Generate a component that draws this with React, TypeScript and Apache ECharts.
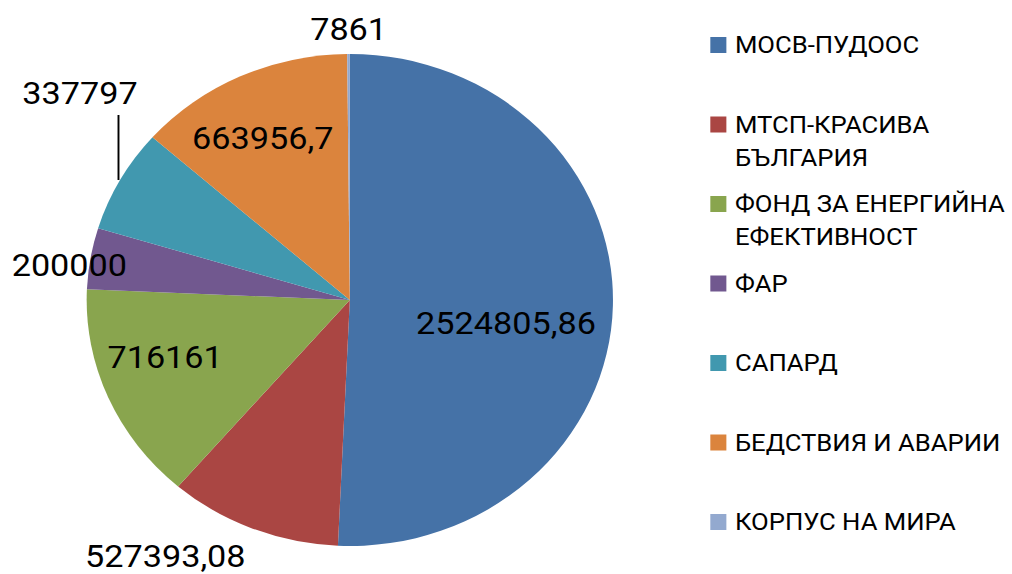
import React, { useEffect, useRef } from "react";
import * as echarts from "echarts";

const categories = [
  "МОСВ-ПУДООС",
  "МТСП-КРАСИВА БЪЛГАРИЯ",
  "ФОНД ЗА ЕНЕРГИЙНА ЕФЕКТИВНОСТ",
  "ФАР",
  "САПАРД",
  "БЕДСТВИЯ И АВАРИИ",
  "КОРПУС НА МИРА",
];
const legendLines = [
  "МОСВ-ПУДООС\n ",
  "МТСП-КРАСИВА\nБЪЛГАРИЯ",
  "ФОНД ЗА ЕНЕРГИЙНА\nЕФЕКТИВНОСТ",
  "ФАР\n ",
  "САПАРД\n ",
  "БЕДСТВИЯ И АВАРИИ\n ",
  "КОРПУС НА МИРА\n ",
];
const values = [2524805.86, 527393.08, 716161, 200000, 337797, 663956.7, 7861];
const colors = ["#4572A7", "#AA4643", "#89A54E", "#71588F", "#4198AF", "#DB843D", "#93A9CF"];

// label shifts relative to the library's inside anchor (layout only)
const labelShift: number[][] = [
  [20, 20],
  [-126, 139],
  [-57, 7],
  [-138, -14],
  [0, 0],
  [-29, -48],
  [-0.5, -145],
];

const STRETCH = 1012 / 946;

export default function App() {
  const ref = useRef<HTMLDivElement>(null);
  useEffect(() => {
    if (!ref.current) return;
    const chart = echarts.init(ref.current, undefined, { renderer: "svg" });
    const data = categories.map((name, i) => {
      const item: any = { name, value: values[i], itemStyle: { color: colors[i] } };
      if (i === 4) {
        item.label = { position: "outside" };
        item.labelLine = { show: true, length: 10, length2: 10, lineStyle: { color: "#000", width: 1.8 } };
      }
      return item;
    });
    chart.setOption({
      animation: false,
      legend: {
        orient: "vertical",
        left: 664,
        top: 28.5,
        padding: 0,
        itemGap: 13.5,
        itemWidth: 15,
        itemHeight: 66,
        icon: "path://M0,8.5h15v16h-15z M0,0h0.01v0.01h-0.01z M0,65.99h0.01v0.01h-0.01z",
        selectedMode: false,
        formatter: (name: string) => legendLines[categories.indexOf(name)],
        textStyle: { fontFamily: "Roboto", fontSize: 24, lineHeight: 33, color: "#000", padding: [0, 0, 0, 3] },
        data: categories,
      },
      series: [
        {
          type: "pie",
          center: [327, 300],
          radius: 246,
          startAngle: 90,
          clockwise: true,
          avoidLabelOverlap: false,
          itemStyle: { borderWidth: 0 },
          emphasis: { disabled: true },
          label: {
            show: true,
            position: "inside",
            color: "#000",
            fontFamily: "Roboto",
            fontSize: 32,
            lineHeight: 30,
            formatter: (p: any) => String(p.value).replace(".", ","),
          },
          labelLine: { show: false },
          labelLayout: (p: any) => {
            if (p.dataIndex === 4 && p.labelLinePoints) {
              const p0 = p.labelLinePoints[0];
              const lx = p0[0] - 1.5;
              return {
                x: p0[0] - 37.5,
                y: p0[1] - 86.6,
                align: "center",
                verticalAlign: "middle",
                labelLinePoints: [
                  [lx, p0[1]],
                  [lx, p0[1] - 65],
                  [lx, p0[1] - 65],
                ],
              };
            }
            const s = labelShift[p.dataIndex];
            return { dx: s[0], dy: s[1] };
          },
          data,
        },
      ],
    });
    return () => chart.dispose();
  }, []);
  return (
    <div style={{ position: "absolute", left: 0, top: 0, width: 1012, height: 574, overflow: "hidden", background: "#fff" }}>
      <div
        ref={ref}
        style={{ width: 946, height: 574, transform: `scaleX(${STRETCH})`, transformOrigin: "0 0" }}
      />
    </div>
  );
}
